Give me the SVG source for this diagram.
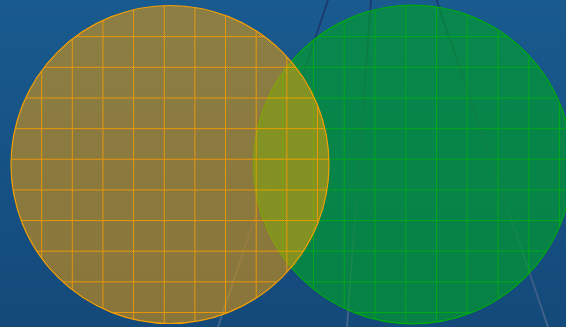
<svg xmlns="http://www.w3.org/2000/svg" width="566" height="327" viewBox="0 0 566 327">
  <defs>
    <linearGradient id="bg" x1="0" y1="0" x2="0" y2="1">
      <stop offset="0" stop-color="#1a5e94"/>
      <stop offset="1" stop-color="#144c7e"/>
    </linearGradient>
    <linearGradient id="strand" gradientUnits="userSpaceOnUse" x1="0" y1="0" x2="0" y2="327">
      <stop offset="0" stop-color="#1b3a70" stop-opacity="1"/>
      <stop offset="0.5" stop-color="#284876" stop-opacity="0.7"/>
      <stop offset="1" stop-color="#5c7698" stop-opacity="0.7"/>
    </linearGradient>
    <pattern id="dither" width="2" height="2" patternUnits="userSpaceOnUse">
      <rect x="0" y="0" width="1" height="1" fill="#000" fill-opacity="0.07"/>
      <rect x="1" y="1" width="1" height="1" fill="#000" fill-opacity="0.07"/>
    </pattern>
    <clipPath id="clipO"><circle cx="170" cy="164.5" r="159"/></clipPath>
    <clipPath id="clipG"><circle cx="412.8" cy="164.5" r="159.3"/></clipPath>
  </defs>
  <style>
    .strand { fill: none; stroke: url(#strand); stroke-width: 1.8; }
    .gridO { stroke: #ffa200; stroke-width: 1; opacity: 0.85; fill: none; }
    .gridG { stroke: #00b414; stroke-width: 1; opacity: 0.85; fill: none; }
  </style>

  <rect width="566" height="327" fill="url(#bg)"/>

  <g id="lines">
    <line class="strand" x1="328" y1="0" x2="218" y2="327"/>
    <line class="strand" x1="371" y1="0" x2="347" y2="327"/>
    <line class="strand" x1="436.5" y1="0" x2="548" y2="327"/>
  </g>

  <g id="green-circle">
    <circle cx="412.8" cy="164.5" r="159.3" fill="#00a82a" fill-opacity="0.64"/>
    <g clip-path="url(#clipG)" class="gridG">
      <path d="M282.75 0V327M313.5 0V327M344.25 0V327M375 0V327M405.75 0V327M436.5 0V327M467.25 0V327M498 0V327M528.75 0V327M559.5 0V327"/>
      <path d="M250 36.65H580M250 67.3H580M250 97.95H580M250 128.6H580M250 159.25H580M250 189.9H580M250 220.55H580M250 251.2H580M250 281.85H580M250 312.5H580"/>
    </g>
    <circle cx="412.8" cy="164.5" r="159.3" fill="none" stroke="#00b010" stroke-width="1.2"/>
  </g>

  <g id="orange-circle">
    <circle cx="170" cy="164.5" r="159" fill="#ffa500" fill-opacity="0.52"/>
    <g clip-path="url(#clipO)" class="gridO">
      <path d="M41.65 0V327M72.3 0V327M102.95 0V327M133.6 0V327M164.25 0V327M194.9 0V327M225.55 0V327M256.2 0V327M286.85 0V327M317.5 0V327"/>
      <path d="M0 36.65H340M0 67.3H340M0 97.95H340M0 128.6H340M0 159.25H340M0 189.9H340M0 220.55H340M0 251.2H340M0 281.85H340M0 312.5H340"/>
    </g>
    <circle cx="170" cy="164.5" r="159" fill="none" stroke="#ffa500" stroke-width="1.2"/>
  </g>

  <rect width="566" height="327" fill="url(#dither)"/>
</svg>
